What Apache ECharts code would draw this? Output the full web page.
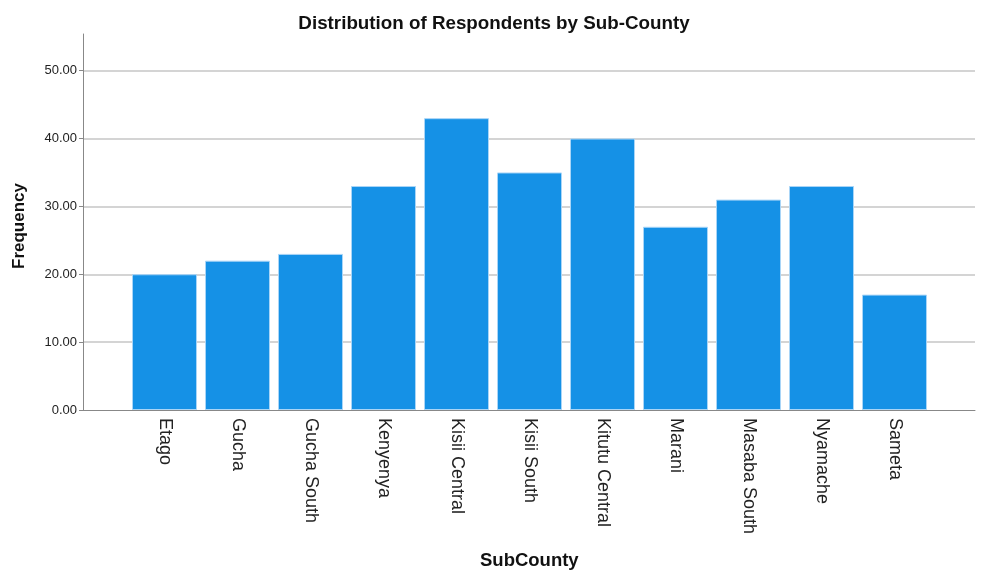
<!DOCTYPE html>
<html>
<head>
<meta charset="utf-8">
<script src="https://cdn.jsdelivr.net/npm/echarts@6/dist/echarts.min.js"></script>
<style>
  html, body { margin: 0; padding: 0; background: #fff; }
  #main { width: 1002px; height: 574px; }
</style>
</head>
<body>
<div id="main"></div>
<script>
// data
const subCounties = ['Etago', 'Gucha', 'Gucha South', 'Kenyenya', 'Kisii Central', 'Kisii South',
  'Kitutu Central', 'Marani', 'Masaba South', 'Nyamache', 'Sameta'];
const frequency = [20, 22, 23, 33, 43, 35, 40, 27, 31, 33, 17];
const yTicks = [0, 10, 20, 30, 40, 50];

const yMax = 55.4;
const font = 'Liberation Sans, Arial, sans-serif';

const chart = echarts.init(document.getElementById('main'));

const option = {
  animation: false,
  title: {
    text: 'Distribution of Respondents by Sub-County',
    left: 489, top: 9, textAlign: 'center',
    textStyle: { fontFamily: font, fontSize: 18.8, fontWeight: 'bold', color: '#111' }
  },
  graphic: [
    {
      type: 'text', left: 11, top: 183,
      rotation: Math.PI / 2,
      style: { text: 'Frequency', font: 'bold 17px ' + font, fill: '#111' }
    },
    {
      type: 'text', left: 480, top: 551,
      style: { text: 'SubCounty', font: 'bold 18.5px ' + font, fill: '#111' }
    }
  ],
  grid: [
    // frame + gridlines
    { left: 83, right: 27, top: 34, bottom: 164 },
    // bars
    { left: 128, right: 71, top: 34, bottom: 164 }
  ],
  xAxis: [
    {
      gridIndex: 0, type: 'value', min: 0, max: 1,
      axisLine: { show: true, lineStyle: { color: '#888', width: 1 } },
      axisTick: { show: false }, axisLabel: { show: false }, splitLine: { show: false }
    },
    {
      gridIndex: 1, type: 'category', data: subCounties,
      axisLine: { show: false }, axisTick: { show: false },
      axisLabel: {
        rotate: -90, margin: 8, interval: 0,
        fontFamily: font, fontSize: 18, color: '#222'
      }
    }
  ],
  yAxis: [
    {
      gridIndex: 0, type: 'value', min: 0, max: yMax, interval: 10,
      axisLine: { show: true, lineStyle: { color: '#888', width: 1 } },
      axisTick: { show: true, length: 4, lineStyle: { color: '#888' } },
      axisLabel: {
        showMaxLabel: false, margin: 6,
        fontFamily: font, fontSize: 13, color: '#222',
        formatter: v => yTicks.includes(v) ? v.toFixed(2) : ''
      },
      splitLine: { show: true, showMinLine: false, showMaxLine: false, lineStyle: { color: '#d4d4d4', width: 2 } }
    },
    {
      gridIndex: 1, type: 'value', min: 0, max: yMax, show: false
    }
  ],
  series: [
    {
      type: 'bar', xAxisIndex: 1, yAxisIndex: 1,
      data: frequency, barWidth: 65,
      itemStyle: { color: '#1591e6', borderColor: '#a9d5f7', borderWidth: 1 }
    }
  ]
};

chart.setOption(option);
</script>
</body>
</html>
